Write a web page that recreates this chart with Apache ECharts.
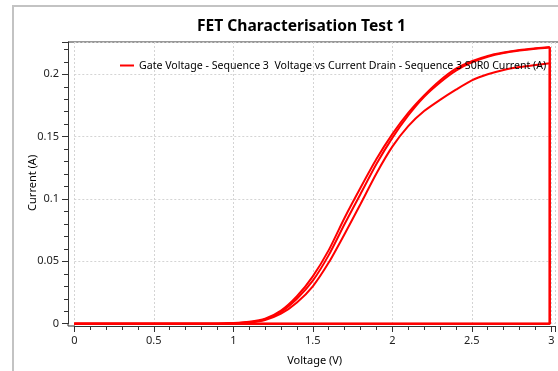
<!DOCTYPE html>
<html>
<head>
<meta charset="utf-8">
<script src="https://cdn.jsdelivr.net/npm/echarts@6/dist/echarts.min.js"></script>
<style>html,body{margin:0;padding:0;background:#fff;}#c{width:558px;height:371px;}</style>
</head>
<body>
<div id="c"></div>
<script>
// Sweep voltages (V)
const voltage = [0,0.1,0.2,0.3,0.4,0.5,0.6,0.7,0.8,0.9,1.0,1.1,1.2,1.3,1.4,1.5,1.6,1.7,1.8,1.9,2.0,2.1,2.2,2.3,2.4,2.5,2.6,2.7,2.8,2.9,2.99];
// Drain current for three sweeps (A)
const sweep1 = [0,0,0,0,0,0,0,0,0,0,0.0005,0.0015,0.004,0.0105,0.022,0.038,0.059,0.085,0.109,0.132,0.152,0.169,0.183,0.195,0.2045,0.2105,0.2148,0.2175,0.2195,0.2208,0.2218];
const sweep2 = [0,0,0,0,0,0,0,0,0,0,0.0004,0.0012,0.0035,0.0095,0.020,0.0345,0.055,0.080,0.104,0.128,0.149,0.167,0.182,0.1935,0.203,0.2095,0.214,0.217,0.219,0.2205,0.2215];
const sweep3 = [0,0,0,0,0,0,0,0,0,0,0.0003,0.001,0.003,0.008,0.017,0.030,0.049,0.072,0.096,0.1205,0.142,0.1585,0.1705,0.1795,0.1877,0.1952,0.200,0.2035,0.2058,0.2075,0.2088];
const xTicks = ['0','0.5','1','1.5','2','2.5','3'];
const yTicks = ['0','0.05','0.1','0.15','0.2'];
const titleText = 'FET Characterisation Test 1';
const legendText = 'Gate Voltage - Sequence 3  Voltage vs Current Drain - Sequence 3 S0R0 Current (A)';

const sweeps = [sweep1, sweep2, sweep3];
const vEnd = voltage[voltage.length - 1];
const series = [];
sweeps.forEach(s => {
  series.push({
    name: legendText, type: 'line', data: s.map((c, i) => [voltage[i], c]),
    showSymbol: false, symbol: 'none', smooth: 0.25,
    lineStyle: {color: '#ff0000', width: 2}, itemStyle: {color: '#ff0000'}, clip: false
  });
  series.push({
    name: legendText, type: 'line', data: [[vEnd, s[s.length - 1]], [vEnd, 0], [0, 0]],
    showSymbol: false, symbol: 'none',
    lineStyle: {color: '#ff0000', width: 2}, itemStyle: {color: '#ff0000'}, clip: false
  });
});

const FONT = 'Noto Sans';
const tickStyle = {color: '#333', width: 1};
const chart = echarts.init(document.getElementById('c'), null, {renderer: 'canvas'});
chart.setOption({
  animation: false,
  backgroundColor: '#fff',
  textStyle: {fontFamily: FONT},
  title: {
    text: titleText, left: 197, top: 19, padding: 0,
    textStyle: {fontFamily: FONT, fontSize: 15.6, fontWeight: 'bold', color: '#000'}
  },
  legend: {
    left: 120, top: 60, padding: 0, icon: 'rect', itemWidth: 14, itemHeight: 2, itemGap: 5,
    textStyle: {fontFamily: FONT, fontSize: 10.6, color: '#000'},
    data: [legendText]
  },
  graphic: [
    {type: 'line', shape: {x1: 13, y1: 6, x2: 13, y2: 371}, style: {stroke: '#c3c3c3', lineWidth: 2}},
    {type: 'line', shape: {x1: 12, y1: 6, x2: 558, y2: 6}, style: {stroke: '#c3c3c3', lineWidth: 2}},
    {type: 'line', shape: {x1: 68, y1: 42, x2: 558, y2: 42}, style: {stroke: '#333', lineWidth: 1}},
    {type: 'polyline', shape: {points: [[68, 323], [68, 326], [75, 326]]}, style: {stroke: '#333', lineWidth: 1, fill: null}}
  ],
  grid: {left: 74.3, right: -3.5, top: 42, bottom: 47.3, containLabel: false},
  xAxis: {
    type: 'value', min: 0, max: 3.023, interval: 0.5, offset: 2.3,
    name: 'Voltage (V)', nameLocation: 'middle', nameGap: 29, nameMoveOverlap: false,
    nameTextStyle: {fontFamily: FONT, fontSize: 11, color: '#000'},
    axisLine: {show: true, onZero: false, lineStyle: tickStyle},
    axisTick: {show: true, inside: false, length: 6, lineStyle: tickStyle},
    minorTick: {show: true, splitNumber: 5, length: 4, lineStyle: tickStyle},
    axisLabel: {fontFamily: FONT, fontSize: 11, color: '#222', margin: 9,
      formatter: v => { const s = String(+v.toFixed(2)); return xTicks.indexOf(s) >= 0 ? s : ''; }},
    splitLine: {show: true, lineStyle: {color: '#d4d4d4', type: [2, 2], width: 1}}
  },
  yAxis: {
    type: 'value', min: 0, max: 0.2259, interval: 0.05, offset: 6.3,
    name: 'Current (A)', nameLocation: 'middle', nameGap: 30, nameMoveOverlap: false,
    nameTextStyle: {fontFamily: FONT, fontSize: 11, color: '#000'},
    axisLine: {show: true, onZero: false, lineStyle: tickStyle},
    axisTick: {show: true, inside: false, length: 6, lineStyle: tickStyle},
    minorTick: {show: true, splitNumber: 5, length: 4, lineStyle: tickStyle},
    axisLabel: {fontFamily: FONT, fontSize: 11, color: '#222', margin: 9,
      formatter: v => { const s = String(+v.toFixed(3)); return yTicks.indexOf(s) >= 0 ? s : ''; }},
    splitLine: {show: true, lineStyle: {color: '#d4d4d4', type: [2, 2], width: 1}}
  },
  series: series
});
</script>
</body>
</html>
